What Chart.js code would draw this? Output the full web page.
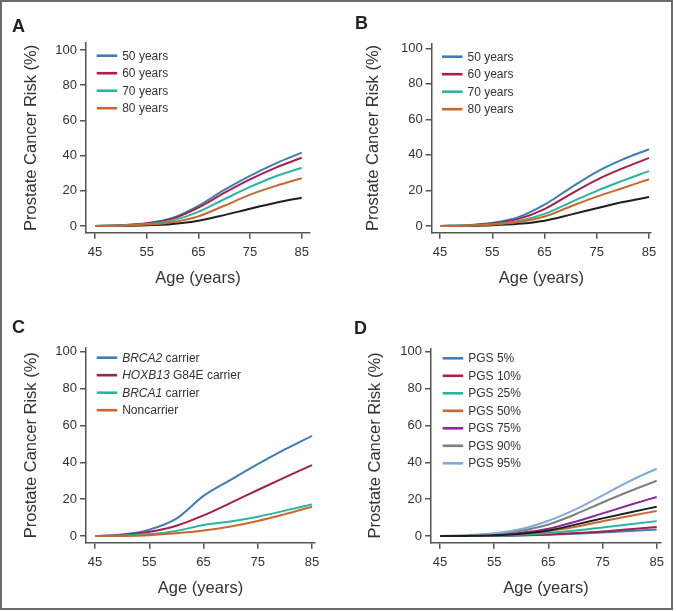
<!DOCTYPE html>
<html>
<head>
<meta charset="utf-8">
<script src="https://cdn.jsdelivr.net/npm/chart.js@4.4.0/dist/chart.umd.min.js"></script>
<style>
  html, body { margin: 0; padding: 0; background: #fff; }
  #fig { position: relative; width: 676px; height: 611px; overflow: hidden;
    font-family: "Liberation Sans", Arial, sans-serif; }
  #frame { position: absolute; left: 0; top: 0; width: 673px; height: 610px;
    box-sizing: border-box; border: 2px solid #6b6b6b; }
  canvas { position: absolute; }
  .tag { position: absolute; font-weight: bold; font-size: 18px; line-height: 18px; color: #222; }
</style>
</head>
<body>
<div id="fig">
  <div id="frame"></div>
  <canvas id="cA" width="338" height="305" style="left:0;top:0"></canvas>
  <canvas id="cB" width="338" height="305" style="left:338px;top:0"></canvas>
  <canvas id="cC" width="338" height="306" style="left:0;top:305px"></canvas>
  <canvas id="cD" width="338" height="306" style="left:338px;top:305px"></canvas>
  <div class="tag" style="left:12px;top:17px">A</div>
  <div class="tag" style="left:355px;top:14px">B</div>
  <div class="tag" style="left:12px;top:318px">C</div>
  <div class="tag" style="left:354px;top:319px">D</div>
</div>
<script>
// Lifetime prostate cancer risk curves, four panels (A-D).

// --- data --------------------------------------------------------------------
const AGES = [45, 50, 55, 60, 65, 70, 75, 80, 85];
const X_TICKS = [45, 55, 65, 75, 85];
const Y_TICKS = [0, 20, 40, 60, 80, 100];

const AGE_LABELS = ["50 years", "60 years", "70 years", "80 years"];
const A_50 = [0, 0.4, 1.6, 4.6, 11.5, 20.5, 28.5, 35.6, 41.7];
const A_60 = [0, 0.4, 1.4, 4.2, 10.5, 18.8, 26.5, 33.2, 38.8];
const A_70 = [0, 0.3, 1.1, 3.2, 8.0, 15.2, 22.2, 28.3, 33.1];
const A_80 = [0, 0.2, 0.8, 2.2, 5.5, 11.5, 17.8, 22.8, 27.1];
const A_POP = [0, 0.1, 0.4, 1.2, 3.0, 6.2, 9.8, 13.2, 16.1];

const B_50 = [0, 0.4, 1.8, 5.0, 12.0, 21.5, 30.5, 37.5, 43.2];
const B_60 = [0, 0.3, 1.4, 4.0, 9.5, 18.0, 26.0, 32.5, 38.3];
const B_70 = [0, 0.3, 1.0, 2.8, 6.8, 13.3, 19.8, 25.5, 30.9];
const B_80 = [0, 0.2, 0.8, 2.2, 5.3, 11.0, 16.5, 21.4, 26.3];
const B_POP = [0, 0.1, 0.4, 1.2, 3.0, 6.4, 10.0, 13.5, 16.3];

// legend entries for C: [italic gene name, plain rest]
const GENE_LABELS = [["BRCA2", " carrier"], ["HOXB13", " G84E carrier"], ["BRCA1", " carrier"], ["", "Noncarrier"]];
const C_BRCA2 = [0, 0.8, 3.5, 9.5, 21.8, 30.5, 39.0, 47.0, 54.4];
const C_HOXB13 = [0, 0.6, 2.3, 5.6, 11.2, 18.0, 25.0, 31.8, 38.5];
const C_BRCA1 = [0, 0.3, 1.1, 2.8, 6.0, 7.9, 10.5, 13.8, 17.2];
const C_NON = [0, 0.1, 0.5, 1.5, 3.0, 5.2, 8.2, 11.9, 15.9];

const PGS_LABELS = ["PGS 5%", "PGS 10%", "PGS 25%", "PGS 50%", "PGS 75%", "PGS 90%", "PGS 95%"];
const D_05 = [0, 0.03, 0.1, 0.3, 0.7, 1.2, 1.9, 2.7, 3.5];
const D_10 = [0, 0.04, 0.15, 0.4, 0.9, 1.6, 2.5, 3.7, 4.9];
const D_25 = [0, 0.06, 0.25, 0.7, 1.6, 3.0, 4.7, 6.4, 8.1];
const D_50 = [0, 0.1, 0.4, 1.1, 2.6, 5.0, 8.0, 10.9, 13.6];
const D_75 = [0, 0.15, 0.7, 1.8, 4.0, 7.8, 12.3, 16.8, 21.2];
const D_90 = [0, 0.3, 1.1, 2.9, 6.3, 11.8, 18.2, 24.3, 30.0];
const D_95 = [0, 0.4, 1.5, 3.8, 8.3, 14.5, 22.0, 29.8, 36.5];
const D_POP = [0, 0.1, 0.4, 1.2, 3.0, 6.2, 9.6, 12.8, 15.9];

// --- style -------------------------------------------------------------------
const C = {
  blue: "#3f7cba", red: "#a82043", teal: "#2bb3a3", orange: "#c9682e",
  black: "#1e1e1e", purple: "#8a2a9a", gray: "#7f7f7f", light: "#82aad8",
};
const AXIS = "#555";
const TEXT = "#333";
const FONT = '"Liberation Sans", Arial, sans-serif';

Chart.defaults.font.family = FONT;
Chart.defaults.color = TEXT;

// legend drawn inside the plot, top-left
const insetLegend = {
  id: "insetLegend",
  afterDatasetsDraw(chart, args, opts) {
    const { ctx, chartArea } = chart;
    const x0 = chartArea.left + opts.dx;
    let y = chartArea.top + opts.dy;
    ctx.save();
    ctx.textBaseline = "middle";
    chart.data.datasets.forEach((ds) => {
      if (!ds.entry) return;
      ctx.strokeStyle = ds.borderColor;
      ctx.lineWidth = 2.6;
      ctx.beginPath();
      ctx.moveTo(x0, y);
      ctx.lineTo(x0 + 20.5, y);
      ctx.stroke();
      ctx.fillStyle = TEXT;
      let tx = x0 + opts.textGap;
      const [ital, plain] = ds.entry;
      if (ital) {
        ctx.font = `italic 12px ${FONT}`;
        ctx.fillText(ital, tx, y + 0.5);
        tx += ctx.measureText(ital).width;
      }
      ctx.font = `12px ${FONT}`;
      ctx.fillText(plain, tx, y + 0.5);
      y += opts.step;
    });
    ctx.restore();
  },
};

function series(values, color, entry) {
  return { data: AGES.map((a, i) => ({ x: a, y: values[i] })), borderColor: color, entry };
}

function panel(cfg, list) {
  const n = list.length;
  const datasets = list.map((s, i) => ({
    ...s, borderWidth: 2, pointRadius: 0, cubicInterpolationMode: "monotone",
    fill: false, order: n - i,
  }));
  new Chart(document.getElementById(cfg.id), {
    type: "line",
    data: { datasets },
    plugins: [insetLegend],
    options: {
      responsive: false, animation: false, devicePixelRatio: 1,
      layout: { padding: { top: cfg.top, right: cfg.right, left: 0, bottom: 0 } },
      plugins: {
        legend: { display: false }, tooltip: { enabled: false },
        insetLegend: { dx: cfg.lx, dy: cfg.ly, step: 17.5, textGap: 25.5 },
      },
      scales: {
        x: {
          type: "linear", min: cfg.x[0], max: cfg.x[1],
          afterBuildTicks: (s) => { s.ticks = X_TICKS.map((v) => ({ value: v })); },
          afterFit: (s) => { s.height = cfg.xh; },
          grid: { drawOnChartArea: false, tickLength: 6, color: AXIS, lineWidth: 1.5 },
          border: { color: AXIS, width: 1.5 },
          ticks: { color: TEXT, font: { size: 13 }, padding: 6, maxRotation: 0, autoSkip: false },
          title: { display: true, text: "Age (years)", color: TEXT, font: { size: 16.5 },
            padding: { top: 0, bottom: cfg.xtp } },
        },
        y: {
          type: "linear", min: cfg.y[0], max: cfg.y[1],
          afterBuildTicks: (s) => { s.ticks = Y_TICKS.map((v) => ({ value: v })); },
          afterFit: (s) => { s.width = cfg.yw; },
          grid: { drawOnChartArea: false, tickLength: 6, color: AXIS, lineWidth: 1.5 },
          border: { color: AXIS, width: 1.5 },
          ticks: { color: TEXT, font: { size: 13 }, padding: 3 },
          title: { display: true, text: "Prostate Cancer Risk (%)", color: TEXT, font: { size: 16.5 },
            padding: { top: cfg.ytp, bottom: 0 } },
        },
      },
    },
  });
}

panel({ id: "cA", top: 43, right: 28, yw: 86, xh: 72.3, x: [43.26, 86.6], y: [-3.8, 104],
  ytp: 21.8, xtp: 17.1, lx: 10.7, ly: 12.7 }, [
  series(A_POP, C.black, null),
  series(A_50, C.blue, ["", AGE_LABELS[0]]),
  series(A_60, C.red, ["", AGE_LABELS[1]]),
  series(A_70, C.teal, ["", AGE_LABELS[2]]),
  series(A_80, C.orange, ["", AGE_LABELS[3]]),
]);

panel({ id: "cB", top: 43.3, right: 25, yw: 93.7, xh: 72.3, x: [43.41, 85.38], y: [-3.77, 102.8],
  ytp: 25.4, xtp: 16.8, lx: 10.3, ly: 13.4 }, [
  series(B_POP, C.black, null),
  series(B_50, C.blue, ["", AGE_LABELS[0]]),
  series(B_60, C.red, ["", AGE_LABELS[1]]),
  series(B_70, C.teal, ["", AGE_LABELS[2]]),
  series(B_80, C.orange, ["", AGE_LABELS[3]]),
]);

panel({ id: "cC", top: 42.7, right: 23, yw: 86, xh: 68.3, x: [43.34, 85.55], y: [-3.6, 102.2],
  ytp: 21.8, xtp: 12.8, lx: 10.7, ly: 10 }, [
  series(C_BRCA2, C.blue, GENE_LABELS[0]),
  series(C_HOXB13, C.red, GENE_LABELS[1]),
  series(C_BRCA1, C.teal, GENE_LABELS[2]),
  series(C_NON, C.orange, GENE_LABELS[3]),
]);

panel({ id: "cD", top: 43.3, right: 15, yw: 93, xh: 68.3, x: [43.34, 85.8], y: [-3.6, 101.8],
  ytp: 28, xtp: 12.8, lx: 11.7, ly: 10 }, [
  series(D_05, C.blue, ["", PGS_LABELS[0]]),
  series(D_10, C.red, ["", PGS_LABELS[1]]),
  series(D_25, C.teal, ["", PGS_LABELS[2]]),
  series(D_50, C.orange, ["", PGS_LABELS[3]]),
  series(D_75, C.purple, ["", PGS_LABELS[4]]),
  series(D_90, C.gray, ["", PGS_LABELS[5]]),
  series(D_95, C.light, ["", PGS_LABELS[6]]),
  series(D_POP, C.black, null),
]);
</script>
</body>
</html>
